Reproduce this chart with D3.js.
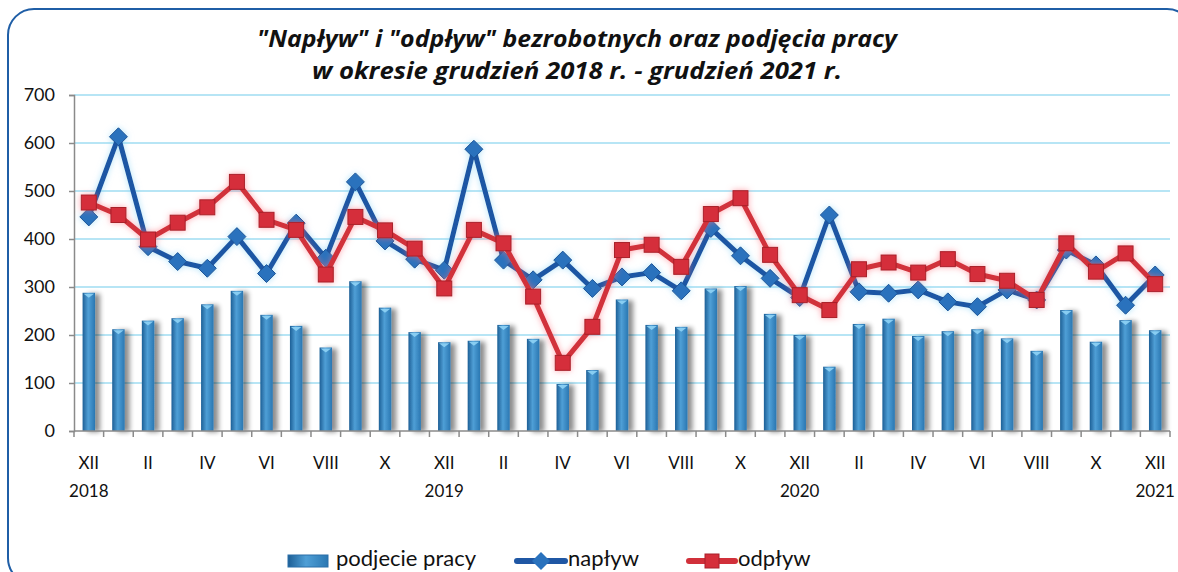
<!DOCTYPE html>
<html><head><meta charset="utf-8">
<script src="https://cdn.jsdelivr.net/npm/d3@7"></script>
<style>html,body{margin:0;padding:0;background:#fff;overflow:hidden}</style>
</head><body>
<svg id="c" width="1178" height="572"></svg>
<script>
const months = ["XII","I","II","III","IV","V","VI","VII","VIII","IX","X","XI",
                "XII","I","II","III","IV","V","VI","VII","VIII","IX","X","XI",
                "XII","I","II","III","IV","V","VI","VII","VIII","IX","X","XI","XII"];
const yearLabels = {0:"2018",12:"2019",24:"2020",36:"2021"};
const podjecie = [288,212,230,235,264,292,242,219,174,312,257,206,185,188,221,192,98,127,274,221,217,297,302,244,200,134,223,234,198,208,212,193,167,252,186,231,210];
const naplyw = [446,613,384,353,339,405,328,433,360,519,396,358,335,587,356,315,356,297,321,330,292,422,365,318,278,450,290,287,294,269,259,294,273,377,346,262,325];
const odplyw = [476,450,399,434,466,519,440,419,326,446,418,380,297,419,391,280,142,217,377,388,342,452,485,367,283,252,337,351,330,358,327,313,273,391,332,370,306];
const yTicks = [0,100,200,300,400,500,600,700];
const titleLines = ["\"Napływ\" i \"odpływ\" bezrobotnych oraz podjęcia pracy","w okresie grudzień 2018 r. - grudzień 2021 r."];
const legendNames = ["podjecie pracy","napływ","odpływ"];

const svg = d3.select("#c");
const defs = svg.append("defs");
const g1 = defs.append("linearGradient").attr("id","barG").attr("x1","0").attr("x2","1").attr("y1","0").attr("y2","0");
g1.append("stop").attr("offset","0").attr("stop-color","#1d5f96");
g1.append("stop").attr("offset","0.45").attr("stop-color","#4f9fd6");
g1.append("stop").attr("offset","1").attr("stop-color","#2a77b2");
const sh = defs.append("filter").attr("id","shadow").attr("x","-50%").attr("y","-10%").attr("width","250%").attr("height","130%");
sh.append("feGaussianBlur").attr("in","SourceAlpha").attr("stdDeviation","2.5").attr("result","b");
sh.append("feOffset").attr("in","b").attr("dx","5").attr("dy","1").attr("result","o");
sh.append("feComponentTransfer").attr("in","o").attr("result","o2").append("feFuncA").attr("type","linear").attr("slope","0.45");
const m = sh.append("feMerge"); m.append("feMergeNode").attr("in","o2"); m.append("feMergeNode").attr("in","SourceGraphic");
function glow(id, color){
  const f = defs.append("filter").attr("id",id).attr("x","-10%").attr("y","-20%").attr("width","120%").attr("height","140%");
  f.append("feGaussianBlur").attr("in","SourceAlpha").attr("stdDeviation","3").attr("result","b");
  f.append("feFlood").attr("flood-color",color).attr("flood-opacity","0.6").attr("result","c");
  f.append("feComposite").attr("in","c").attr("in2","b").attr("operator","in").attr("result","g");
  const mm = f.append("feMerge"); mm.append("feMergeNode").attr("in","g"); mm.append("feMergeNode").attr("in","SourceGraphic");
}
glow("glowB","#7fd0f5");
glow("glowR","#ff6b78");

// frame
svg.append("rect").attr("x",8).attr("y",9).attr("width",1185).attr("height",575).attr("rx",26)
  .attr("fill","none").attr("stroke","#1f5ea6").attr("stroke-width",2);

// title
titleLines.forEach((t,i)=>{
  svg.append("text").attr("x",577).attr("y",[47,79][i]).attr("text-anchor","middle")
    .attr("font-family","'Liberation Sans Narrow','Open Sans',sans-serif").attr("font-weight","bold").attr("font-style","italic")
    .attr("font-size",24).attr("fill","#111")
    .attr("textLength",[640,530][i]).attr("lengthAdjust","spacingAndGlyphs").text(t);
});

const L=74, R=1170, T=95, B=431;
const x = d3.scaleBand().domain(d3.range(months.length)).range([L,R]).padding(0);
const y = d3.scaleLinear().domain([0,700]).range([B,T]);

// grid
svg.append("g").selectAll("line").data(yTicks.filter(d=>d>0)).join("line")
  .attr("x1",L).attr("x2",R).attr("y1",d=>y(d)).attr("y2",d=>y(d))
  .attr("stroke","#9fdcf2").attr("stroke-width",1.6);

// y axis
const ya = svg.append("g").attr("transform",`translate(${L},0)`)
  .call(d3.axisLeft(y).tickValues(yTicks).tickSize(5).tickPadding(14));
ya.select(".domain").attr("stroke","#8a8a8a").attr("stroke-width",1.5);
ya.selectAll(".tick line").attr("stroke","#8a8a8a").attr("stroke-width",1.5);
ya.selectAll("text").attr("font-family","Lato,'Open Sans',sans-serif").attr("font-size",18).attr("fill","#111");

// bars
const bw = x.bandwidth()*0.42;
svg.append("g").attr("filter","url(#shadow)").selectAll("rect").data(podjecie).join("rect")
  .attr("x",(d,i)=>x(i)+x.bandwidth()/2-bw/2).attr("width",bw)
  .attr("y",d=>y(d)).attr("height",d=>B-y(d)).attr("fill","url(#barG)");
svg.append("g").selectAll("path").data(podjecie).join("path")
  .attr("d",(d,i)=>{const cx=x(i)+x.bandwidth()/2, yy=y(d); return `M${cx-bw/2+1},${yy+1}L${cx+bw/2-1},${yy+1}L${cx},${yy+5}Z`;})
  .attr("fill","#8fd3f5").attr("opacity",0.9);

// x axis
svg.append("line").attr("x1",L).attr("x2",R).attr("y1",B).attr("y2",B).attr("stroke","#8a8a8a").attr("stroke-width",1.5);
svg.append("g").selectAll("line").data(d3.range(months.length+1)).join("line")
  .attr("x1",d=>d<months.length?x(d):R).attr("x2",d=>d<months.length?x(d):R)
  .attr("y1",B).attr("y2",B+6).attr("stroke","#8a8a8a").attr("stroke-width",1.5);
svg.append("g").selectAll("text").data(months.map((m,i)=>[m,i]).filter(d=>d[1]%2===0)).join("text")
  .attr("x",d=>x(d[1])+x.bandwidth()/2).attr("y",469).attr("text-anchor","middle")
  .attr("font-family","Lato,'Open Sans',sans-serif").attr("font-size",17).attr("fill","#111").text(d=>d[0]);
svg.append("g").selectAll("text").data(Object.keys(yearLabels).map(Number)).join("text")
  .attr("x",d=>x(d)+x.bandwidth()/2).attr("y",497).attr("text-anchor","middle")
  .attr("font-family","Lato,'Open Sans',sans-serif").attr("font-size",17).attr("fill","#111").text(d=>yearLabels[d]);

// lines
const line = d3.line().x((d,i)=>x(i)+x.bandwidth()/2).y(d=>y(d));
const gB = svg.append("g").attr("filter","url(#glowB)");
gB.append("path").datum(naplyw).attr("d",line).attr("fill","none").attr("stroke","#1f57a4").attr("stroke-width",5).attr("stroke-linejoin","round");
gB.selectAll("path.mk").data(naplyw).join("path").attr("class","mk")
  .attr("transform",(d,i)=>`translate(${x(i)+x.bandwidth()/2},${y(d)})`)
  .attr("d","M0,-9L9,0L0,9L-9,0Z").attr("fill","#2a72bd").attr("stroke","#1a5296").attr("stroke-width",1);

const gR = svg.append("g").attr("filter","url(#glowR)");
gR.append("path").datum(odplyw).attr("d",line).attr("fill","none").attr("stroke","#d1303a").attr("stroke-width",5).attr("stroke-linejoin","round");
gR.selectAll("rect.mk").data(odplyw).join("rect").attr("class","mk")
  .attr("x",(d,i)=>x(i)+x.bandwidth()/2-7.5).attr("y",d=>y(d)-7.5).attr("width",15).attr("height",15)
  .attr("fill","#d52f3a").attr("stroke","#a8202a").attr("stroke-width",1);

// legend
const lf = "Lato,'Open Sans',sans-serif";
const lg = svg.append("g");
lg.append("rect").attr("x",288).attr("y",555).attr("width",40).attr("height",12).attr("fill","url(#barG)").attr("stroke","#2a6fa8");
lg.append("text").attr("x",336).attr("y",566).attr("font-family",lf).attr("font-size",22).attr("fill","#111").text(legendNames[0]);
lg.append("line").attr("x1",517).attr("x2",565).attr("y1",561).attr("y2",561).attr("stroke","#1f57a4").attr("stroke-width",6).attr("stroke-linecap","round");
lg.append("path").attr("transform","translate(541,561)").attr("d","M0,-9L9,0L0,9L-9,0Z").attr("fill","#2a72bd");
lg.append("text").attr("x",568).attr("y",566).attr("font-family",lf).attr("font-size",22).attr("fill","#111").text(legendNames[1]);
lg.append("line").attr("x1",689).attr("x2",735).attr("y1",561).attr("y2",561).attr("stroke","#d1303a").attr("stroke-width",6).attr("stroke-linecap","round");
lg.append("rect").attr("x",705).attr("y",554).attr("width",14).attr("height",14).attr("fill","#d52f3a").attr("stroke","#a8202a");
lg.append("text").attr("x",738).attr("y",566).attr("font-family",lf).attr("font-size",22).attr("fill","#111").text(legendNames[2]);
</script>
</body></html>
